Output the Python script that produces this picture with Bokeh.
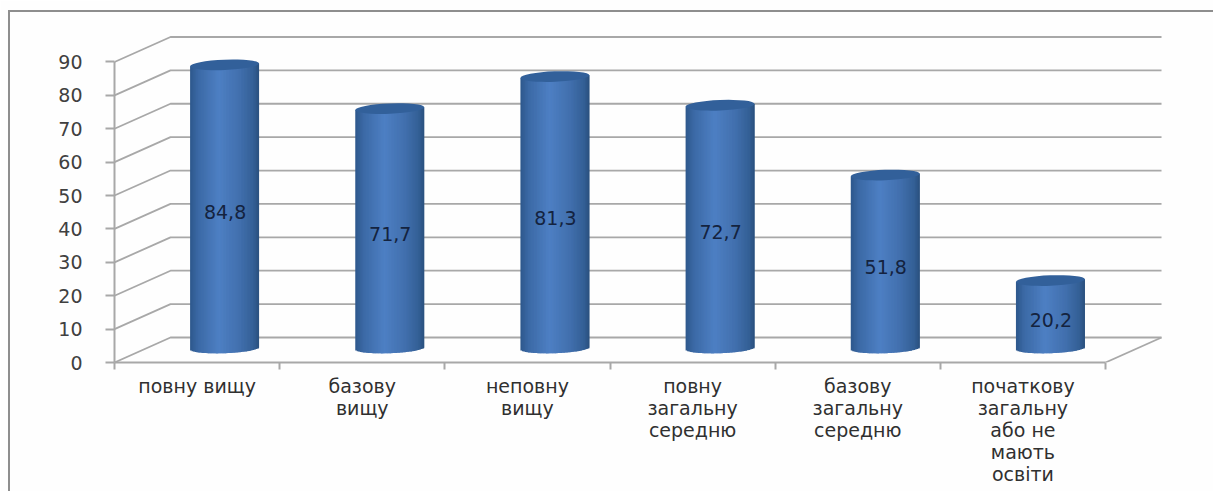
import numpy as np
from bokeh.plotting import figure
from bokeh.embed import file_html
from bokeh.resources import INLINE
from bokeh.models import FixedTicker, Range1d
from bokeh.core.properties import value

categories = ["повну вищу", "базову\nвищу", "неповну\nвищу", "повну\nзагальну\nсередню",
              "базову\nзагальну\nсередню", "початкову\nзагальну\nабо не\nмають\nосвіти"]
values = [84.8, 71.7, 81.3, 72.7, 51.8, 20.2]
labels = ["84,8", "71,7", "81,3", "72,7", "51,8", "20,2"]
y_ticks = list(range(0, 100, 10))

FONT = "DejaVu Sans"
GRID = "#a8a8a8"
W, H = 1213, 491
LEFT, BOTTOM = 114, 129
PX_X = 165.17           # pixels per category
PX_Y = 3.339            # pixels per value unit
DX, DY = 56 / PX_X, 25 / PX_Y   # depth of the 3-D box, data units
HALF = 34.5 / PX_X      # cylinder half width
RY = 5.2 / PX_Y         # ellipse semi-minor axis
TILT = 0.04 * PX_X / PX_Y  # slight skew of the picture

p = figure(width=W, height=H, output_backend="svg", toolbar_location=None,
           x_range=Range1d(0, (W - LEFT) / PX_X), y_range=Range1d(0, (H - BOTTOM) / PX_Y),
           min_border_left=LEFT, min_border_bottom=BOTTOM, min_border_top=0, min_border_right=0,
           background_fill_color="#fefefe", border_fill_color="#fefefe", outline_line_color=None)
p.grid.visible = False
# outer picture frame: only its top and left edges are in view
p.stylesheets = [":host::after{content:'';position:absolute;left:8px;top:10px;right:0;bottom:0;"
                 "border-left:2px solid #8e8e8e;border-top:2px solid #8e8e8e;pointer-events:none;}"]

# y axis
ya = p.yaxis[0]
ya.ticker = FixedTicker(ticks=y_ticks)
ya.bounds = (0, 90)
ya.axis_line_color = GRID
ya.axis_line_width = 2
ya.major_tick_line_color = GRID
ya.major_tick_line_width = 2
ya.major_tick_out = 9
ya.major_tick_in = 0
ya.minor_tick_line_color = None
ya.major_label_standoff = 23
ya.major_label_text_font = FONT
ya.major_label_text_font_size = "19px"
ya.major_label_text_color = "#404040"

# x axis: labels in the middle of each category, ticks between categories
xa = p.xaxis[0]
centres = [i + 0.5 for i in range(len(categories))]
xa.ticker = FixedTicker(ticks=centres, minor_ticks=list(range(len(categories) + 1)))
xa.major_label_overrides = {c: t for c, t in zip(centres, categories)}
xa.bounds = (0, len(categories))
xa.axis_line_color = GRID
xa.axis_line_width = 2
xa.major_tick_line_color = None
xa.major_tick_out = 0
xa.major_tick_in = 0
xa.minor_tick_line_color = GRID
xa.minor_tick_line_width = 2
xa.minor_tick_out = 7
xa.minor_tick_in = 0
xa.major_label_standoff = 5
xa.major_label_text_font = FONT
xa.major_label_text_font_size = "19px"
xa.major_label_text_color = "#303030"
xa.major_label_text_line_height = 1.0

# 3-D wall gridlines
n = len(categories)
gx = [[0, DX, n + DX] for _ in y_ticks]
gy = [[t, t + DY, t + DY] for t in y_ticks]
p.multi_line(gx, gy, line_color=GRID, line_width=1.8)
p.line([n, n + DX], [0, DY], line_color=GRID, line_width=1.8)

# cylinders
STOPS = [(0.0, (46, 88, 140)), (0.12, (60, 106, 166)), (0.42, (78, 128, 196)),
         (0.72, (66, 112, 174)), (0.92, (52, 96, 150)), (1.0, (42, 80, 126))]
u = np.linspace(0, 1, 47)
mid = (u[:-1] + u[1:]) / 2
cols = ["#%02x%02x%02x" % tuple(int(np.interp(m, [s[0] for s in STOPS], [s[1][k] for s in STOPS])) for k in range(3))
        for m in mid]
base = DY / 2 + 0.6
for i, v in enumerate(values):
    cx = i + 0.5 + DX / 2 - 0.003
    t = (mid * 2 - 1)
    left = cx + (u[:-1] * 2 - 1) * HALF
    right = np.minimum(cx + (u[1:] * 2 - 1) * HALF + 0.008, cx + HALF)
    skew = t * HALF * TILT
    bottom = base + skew - RY * np.sqrt(1 - t ** 2)
    top = base + v + skew
    p.quad(left=left, right=right, bottom=bottom, top=top, fill_color=cols, line_color=None)
    p.ellipse(x=[cx], y=[base + v], width=[2 * HALF], height=[2 * RY * PX_Y], height_units="screen",
              angle=[np.arctan(0.04)], fill_color="#32609a", line_color=None)

p.text(x=[i + 0.5 + DX / 2 for i in range(n)], y=[base + v / 2 - 1.6 for v in values], text=labels,
       text_align="center", text_baseline="middle", text_font=value(FONT), text_font_size="19px",
       text_color="#14233f")

open("out.html", "w").write(file_html(p, INLINE))
